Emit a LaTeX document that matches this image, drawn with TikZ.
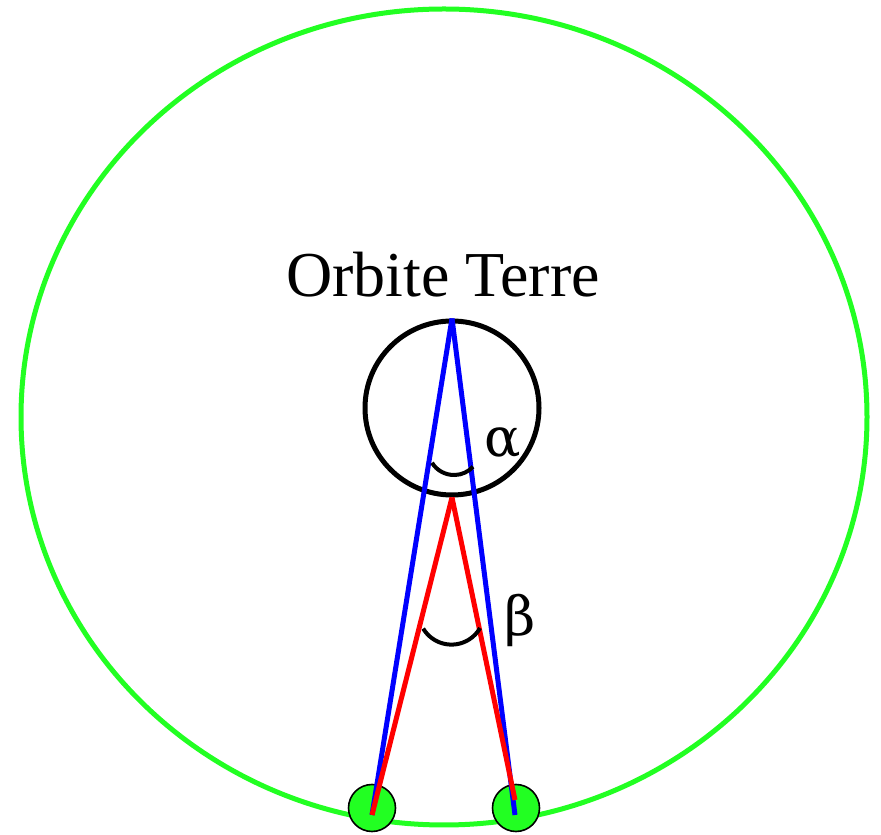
\documentclass[tikz,border=0pt]{standalone}
\usepackage{fontspec}
\setmainfont{Liberation Serif}
\newfontfamily\greekfont{DejaVu Serif}
\usepackage{xcolor}
\usepackage{tikz}
\usetikzlibrary{positioning}
\definecolor{skygreen}{HTML}{22FF22}
\definecolor{sightblue}{HTML}{0000FF}
\definecolor{sightred}{HTML}{FF0000}

\begin{document}
\begin{tikzpicture}[
  x=1pt,y=1pt,
  every node/.style={font=\fontsize{64}{70}\selectfont},
  earthorbit/.style={circle,draw,line width=5pt,minimum size=174pt,inner sep=0pt},
  star/.style={circle,draw,line width=1.6pt,fill=skygreen,minimum size=47pt,inner sep=0pt},
  sight/.style={line width=5pt},
  angmark/.style={line width=4pt},
  anglabel/.style={font=\greekfont\fontsize{54}{60}\selectfont}
]
\useasboundingbox (0,0) rectangle (881,835);
\draw[skygreen,line width=5pt] (444,418) ellipse [x radius=423pt, y radius=408pt];
\node[earthorbit] (earth) at (452,427) {};
\node[star] (s1) at (372,27) {};
\node[star] (s2) at (516,27) {};
\coordinate (b1) at (372,20);
\coordinate (b2) at (515,20);
\coordinate (r1) at (372,20);
\coordinate (r2) at (515,35);
\foreach \v in {b1,b2} \draw[sight,sightblue] (earth.north) -- (\v);
\foreach \v in {r1,r2} \draw[sight,sightred] (earth.south) -- (\v);
\draw[angmark] (432,372.2) arc[start angle=212,end angle=317,radius=26];
\draw[angmark] (423.2,206.4) arc[start angle=211,end angle=330,radius=33];
\node[anchor=base] (title) at (443,538) {Orbite Terre};
\node[anchor=center] (alpha) at (503,392) [anglabel] {α};
\node[anchor=center] (beta) at (520,215) [anglabel] {β};
\end{tikzpicture}
\end{document}
